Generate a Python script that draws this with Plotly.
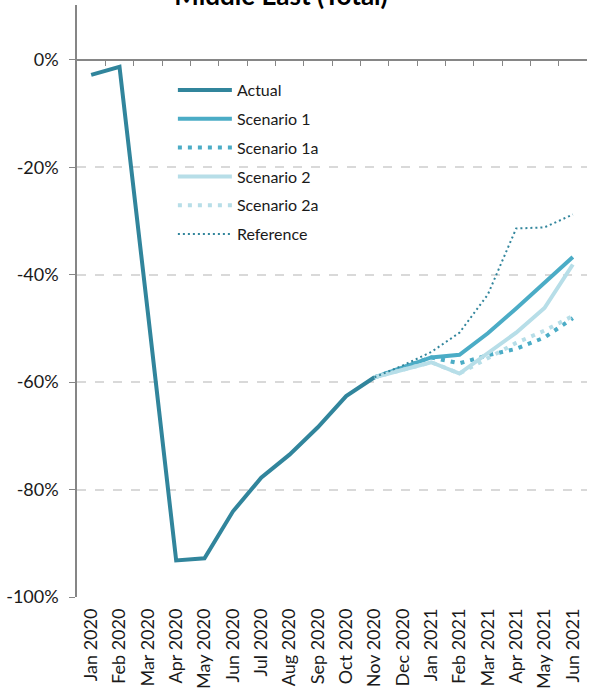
import plotly.graph_objects as go

months = ["Jan 2020", "Feb 2020", "Mar 2020", "Apr 2020", "May 2020", "Jun 2020",
          "Jul 2020", "Aug 2020", "Sep 2020", "Oct 2020", "Nov 2020", "Dec 2020",
          "Jan 2021", "Feb 2021", "Mar 2021", "Apr 2021", "May 2021", "Jun 2021"]

# values in %, None = no value for that month
actual = [-2.8, -1.3, -47.0, -93.2, -92.8, -84.1, -77.8, -73.5, -68.4, -62.6, -59.1,
          None, None, None, None, None, None, None]
scenario_1 = [None] * 10 + [-59.1, -57.3, -55.4, -54.9, -50.9, -46.3, -41.5, -36.7]
scenario_1a = [None] * 10 + [-59.1, -57.3, -55.4, -56.5, -55.0, -53.8, -51.7, -48.1]
scenario_2 = [None] * 10 + [-59.1, -57.7, -56.3, -58.4, -54.6, -50.8, -46.2, -38.1]
scenario_2a = [None] * 10 + [-59.1, -57.7, -56.3, -58.4, -55.6, -52.7, -50.4, -47.7]
reference = [None] * 10 + [-59.1, -56.9, -54.4, -50.8, -43.7, -31.4, -31.2, -28.8]

y_ticks = [-100, -80, -60, -40, -20, 0]
y_labels = ["-100%", "-80%", "-60%", "-40%", "-20%", "0%"]

dark = "#31859C"
mid = "#4BACC6"
light = "#B7DEE8"

fig = go.Figure()

series = [
    ("Actual", actual, dark, 4, "solid"),
    ("Scenario 1", scenario_1, mid, 4, "solid"),
    ("Scenario 1a", scenario_1a, mid, 4, "4px,6px"),
    ("Scenario 2", scenario_2, light, 4, "solid"),
    ("Scenario 2a", scenario_2a, light, 4, "4px,6px"),
    ("Reference", reference, dark, 2, "2px,3px"),
]
for name, vals, col, w, dash in series:
    fig.add_trace(go.Scatter(x=months, y=vals, name=name, mode="lines",
                             legendgroup=name,
                             line=dict(color=col, width=w, dash=dash),
                             connectgaps=False))

fig.update_layout(
    width=589, height=691,
    margin=dict(l=77, r=2, t=5, b=91),
    plot_bgcolor="white", paper_bgcolor="white",
    font=dict(family="Lato", size=16, color="#1a1a1a"),
    title=dict(text="<b>Middle East (Total)</b>", font=dict(size=26, color="#000000"),
               xref="container", x=281 / 589, xanchor="center",
               yref="container", y=1 - 5 / 691, yanchor="bottom"),
    showlegend=True,
    legend=dict(x=0.188, y=0.885, xanchor="left", yanchor="top",
                bgcolor="rgba(0,0,0,0)", itemwidth=54, tracegroupgap=5,
                font=dict(size=16)),
    xaxis=dict(type="category", categoryarray=months, range=[-0.5, 17.5],
               tickangle=-90, showline=False, ticks="", showgrid=False,
               tickfont=dict(size=18), ticklabelstandoff=7),
    xaxis2=dict(overlaying="x", anchor="free", position=100 / 110.2,
                range=[-0.5, 17.5], tickvals=[i + 0.5 for i in range(17)],
                showticklabels=False, ticks="outside", ticklen=5,
                tickcolor="#868686", showline=True, linecolor="#868686",
                linewidth=1.5, showgrid=False, zeroline=False),
    yaxis=dict(range=[-100, 10.2], tickvals=y_ticks, ticktext=y_labels,
               showgrid=True, gridcolor="#D9D9D9", griddash="dash", gridwidth=1.5,
               zeroline=False, showline=True, linecolor="#868686", linewidth=1.5,
               ticks="outside", ticklen=6, tickcolor="#868686",
               tickfont=dict(size=18), ticklabelstandoff=7),
)
# empty trace so the zero-line axis is drawn
fig.add_trace(go.Scatter(x=[None], y=[None], xaxis="x2", showlegend=False,
                         hoverinfo="skip"))

# page body has an 8px margin by default, drop it so the chart sits at 0,0
fig.write_html("out.html", config={"displayModeBar": False},
               post_script="document.body.style.margin='0px';")
